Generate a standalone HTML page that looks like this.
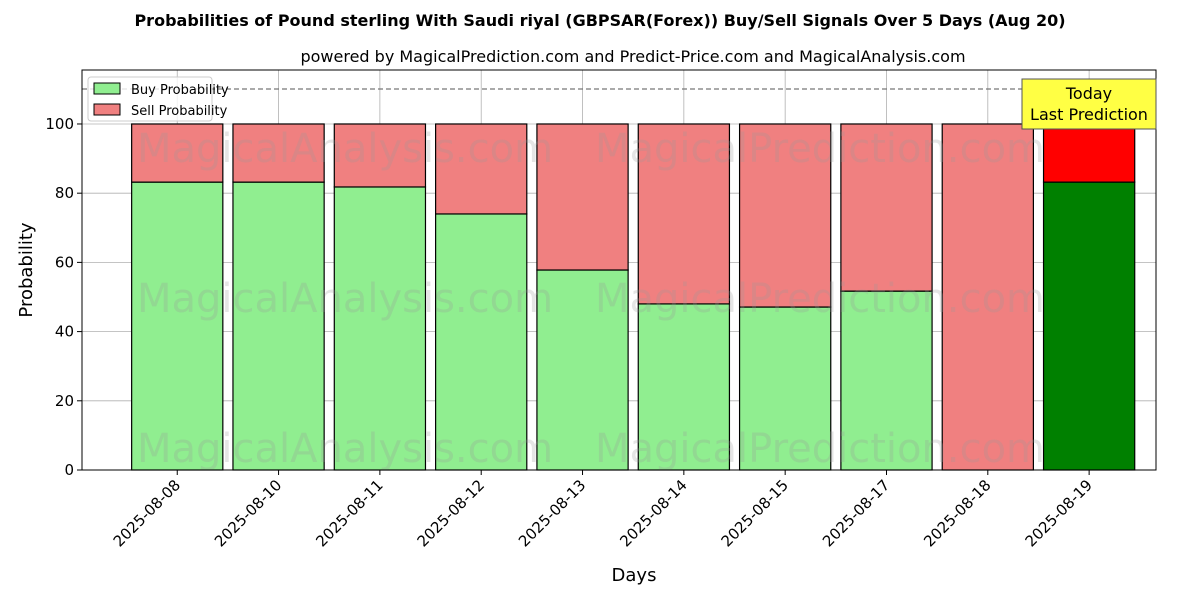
<!DOCTYPE html>
<html><head><meta charset="utf-8"><style>
body{margin:0;background:#fff;}
svg text{font-family:"DejaVu Sans","Liberation Sans",sans-serif;}
</style></head><body>
<svg id="chart" width="1200" height="600" xmlns="http://www.w3.org/2000/svg">
<text x="600" y="26" text-anchor="middle" font-size="16" font-weight="bold">Probabilities of Pound sterling With Saudi riyal (GBPSAR(Forex)) Buy/Sell Signals Over 5 Days (Aug 20)</text>
<text x="633" y="62" text-anchor="middle" font-size="16">powered by MagicalPrediction.com and Predict-Price.com and MagicalAnalysis.com</text>
<g id="grid"></g>
<g id="bars"></g>
<g id="wm" fill="#999" fill-opacity="0.25" font-size="40" text-anchor="middle">
<text x="345" y="162">MagicalAnalysis.com</text><text x="820" y="162">MagicalPrediction.com</text>
<text x="345" y="312">MagicalAnalysis.com</text><text x="820" y="312">MagicalPrediction.com</text>
<text x="345" y="462">MagicalAnalysis.com</text><text x="820" y="462">MagicalPrediction.com</text>
</g>
<line x1="82" x2="1156" y1="89" y2="89" stroke="#777" stroke-dasharray="5,3" stroke-width="1.2"/>
<g id="axes"></g>
<rect x="82" y="70" width="1074" height="400" fill="none" stroke="#000" stroke-width="1"/>
<g>
<rect x="88" y="77" width="124" height="44" fill="#fff" fill-opacity="0.8" stroke="#ccc" rx="3"/>
<rect x="94" y="83" width="26" height="11" fill="#90ee90" stroke="#000"/>
<text x="131" y="94" font-size="13">Buy Probability</text>
<rect x="94" y="104" width="26" height="11" fill="#f08080" stroke="#000"/>
<text x="131" y="115" font-size="13">Sell Probability</text>
</g>
<g>
<rect x="1022" y="79" width="134" height="50" fill="#ffff44" stroke="#555"/>
<text x="1089" y="99" text-anchor="middle" font-size="16">Today</text>
<text x="1089" y="120" text-anchor="middle" font-size="16">Last Prediction</text>
</g>
<text x="634" y="581" text-anchor="middle" font-size="18">Days</text>
<text transform="translate(32,270) rotate(-90)" text-anchor="middle" font-size="18">Probability</text>
</svg>
<script>
const categories=["2025-08-08","2025-08-10","2025-08-11","2025-08-12","2025-08-13","2025-08-14","2025-08-15","2025-08-17","2025-08-18","2025-08-19"];
const buyValues=[83.2,83.2,81.8,74.0,57.8,48.0,47.1,51.7,0,83.2];
const sellValues=[16.8,16.8,18.2,26.0,42.2,52.0,52.9,48.3,100,16.8];
const yTicks=[0,20,40,60,80,100];
const NS="http://www.w3.org/2000/svg";
const x0=82,x1=1156,yTop=70,yBot=470,xMin=-0.94,xMax=9.66,yMax=115.6;
const xs=i=>x0+(i-xMin)/(xMax-xMin)*(x1-x0);
const ys=v=>yBot-v/yMax*(yBot-yTop);
const bw=0.9*(x1-x0)/(xMax-xMin);
function mk(t,a,p){const e=document.createElementNS(NS,t);for(const k in a)e.setAttribute(k,a[k]);p.appendChild(e);return e;}
const grid=document.getElementById('grid'),bars=document.getElementById('bars'),axes=document.getElementById('axes');
yTicks.forEach(v=>{
 const l=mk('line',{x1:x0,x2:x1,y1:ys(v),y2:ys(v),stroke:'#b0b0b0','stroke-width':0.8},grid);
 
 
 mk('line',{x1:x0-5,x2:x0,y1:ys(v),y2:ys(v),stroke:'#000'},axes);
 const t=mk('text',{x:x0-8,y:ys(v)+5,'text-anchor':'end','font-size':15},axes);t.textContent=v;
 
 
});
categories.forEach((c,i)=>{
 const cx=xs(i);
 const g=mk('line',{x1:cx,x2:cx,y1:yTop,y2:yBot,stroke:'#b0b0b0','stroke-width':0.8},grid);
 
 
 const last=i===categories.length-1;
 const b=mk('rect',{x:cx-bw/2,y:ys(buyValues[i]),width:bw,height:ys(0)-ys(buyValues[i]),fill:last?'#008000':'#90ee90',stroke:'#000','stroke-width':1.2},bars);
 
 
 const s=mk('rect',{x:cx-bw/2,y:ys(buyValues[i]+sellValues[i]),width:bw,height:ys(buyValues[i])-ys(buyValues[i]+sellValues[i]),fill:last?'#ff0000':'#f08080',stroke:'#000','stroke-width':1.2},bars);
 
 
 mk('line',{x1:cx,x2:cx,y1:yBot,y2:yBot+5,stroke:'#000'},axes);
 const t=mk('text',{x:cx+4,y:yBot+16,'text-anchor':'end','font-size':15,transform:`rotate(-45 ${cx+4} ${yBot+16})`},axes);t.textContent=c;
 
 
});
</script>
</body></html>
